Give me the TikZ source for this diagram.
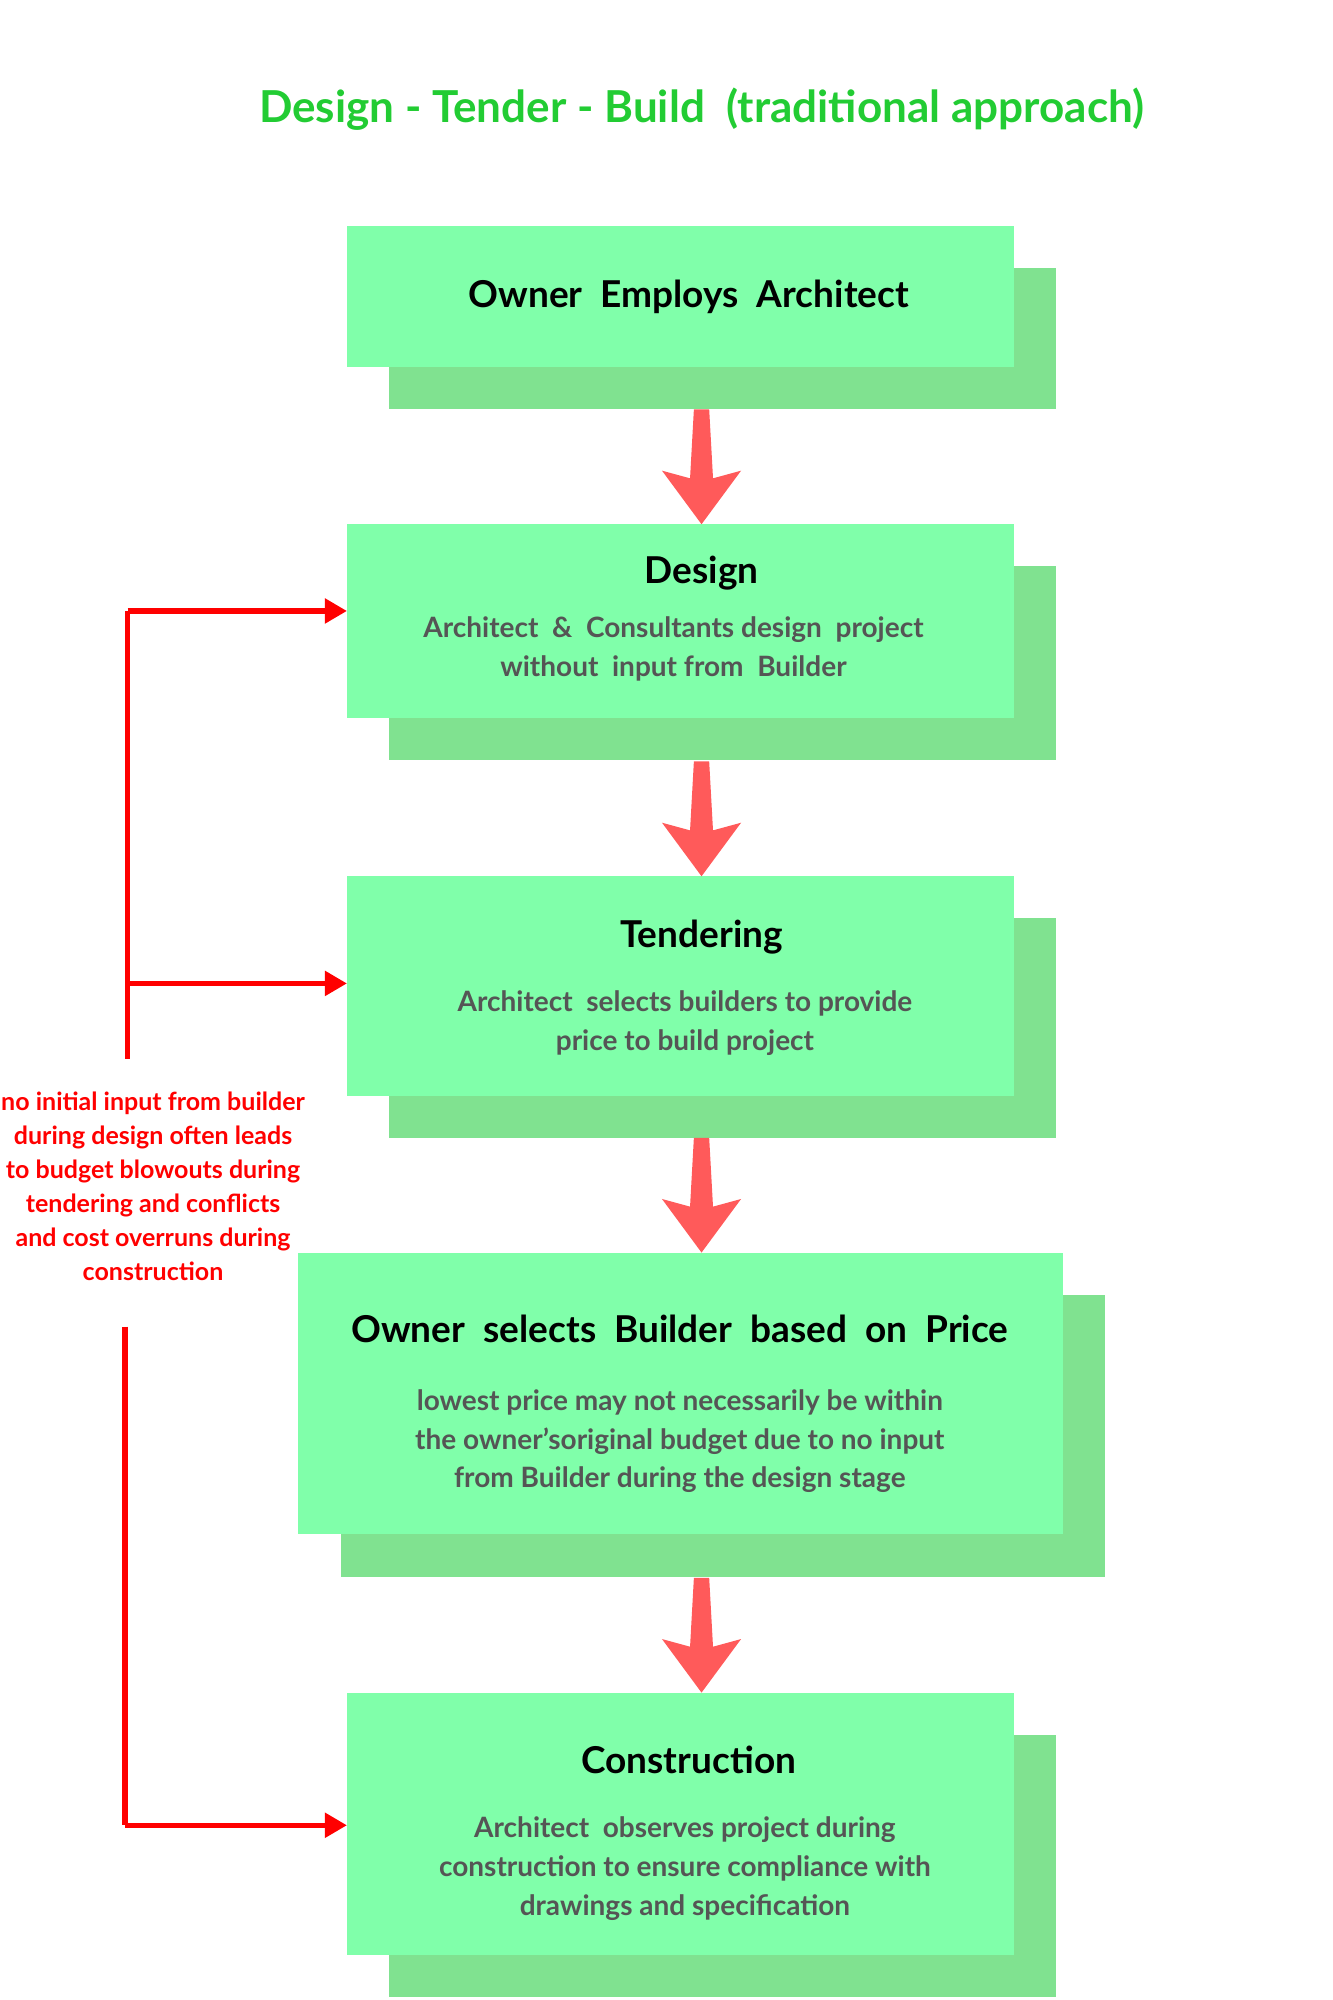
\documentclass[tikz,border=0pt]{standalone}
\usepackage{fontspec}
\setmainfont{Lato}
\usetikzlibrary{arrows.meta}
\definecolor{boxg}{HTML}{80FFAA}
\definecolor{shad}{HTML}{80E290}
\definecolor{titg}{HTML}{22CC33}
\definecolor{arr}{HTML}{FF5A5A}
\definecolor{bodyg}{HTML}{555555}
\tikzset{
 front/.style={fill=boxg,draw=none},
 shadowbox/.style={fill=shad,draw=none},
 btitle/.style={font=\fontsize{18.5}{22}\selectfont\bfseries,text=black},
 btext/.style={font=\fontsize{14}{19.3}\selectfont\bfseries,text=bodyg,align=center},
 redline/.style={draw=red,line width=2.6pt},
 redarrow/.style={redline,-{Triangle[length=11pt,width=12pt]}},
 fatarrow/.style={fill=arr,draw=none}
}
\begin{document}
\begin{tikzpicture}[x=0.6375pt,y=-0.6375pt]
\useasboundingbox (0,0) rectangle (1045,1568);
\node[font=\fontsize{22}{26}\selectfont\bfseries,text=titg] (title) at (550,86) {Design - Tender - Build\ \ (traditional approach)};
% boxes
\foreach \n/\xa/\ya/\xb/\yb in {b1/272/177/795/288,b2/272/411/795/563,b3/272/687/795/859,b4/234/982/833/1203,b5/272/1327/795/1533}{
  \fill[shad] (\xa+33,\ya+33) rectangle (\xb+33,\yb+33);
  \fill[boxg] (\xa,\ya) rectangle (\xb,\yb);
  \coordinate (\n nw) at (\xa,\ya);
}
\node[btitle] (t1) at (540,233) {Owner\ \ Employs\ \ Architect};
\node[btitle] (t2) at (550,449) {Design};
\node[btext] (x2) at (528,509) {Architect\ \ \&\ \ Consultants design\ \ project\\without\ \ input from\ \ Builder};
\node[btitle] (t3) at (550,735) {Tendering};
\node[btext] (x3) at (537,802) {Architect\ \ selects builders to provide\\price to build project};
\node[btitle] (t4) at (533,1042) {Owner\ \ selects\ \ Builder\ \ based\ \ on\ \ Price};
\node[btext] (x4) at (533,1130) {lowest price may not necessarily be within\\the owner'soriginal budget due to no input\\from Builder during the design stage};
\node[btitle] (t5) at (540,1380) {Construction};
\node[btext] (x5) at (537,1465) {Architect\ \ observes project during\\construction to ensure compliance with\\drawings and specification};
% fat arrows
\foreach \ya/\yb in {321/411,597/687,892/982,1237/1327}{
  \fill[arr] (544,\ya) -- (556,\ya) -- (559,{\yb-36}) -- (581,{\yb-42}) -- (550,\yb) -- (519,{\yb-42}) -- (541,{\yb-36}) -- cycle;
}
% red connectors
\coordinate (ua) at (100,479);
\coordinate (ub) at (100,830);
\coordinate (um) at (100,771);
\coordinate (la) at (98,1040);
\coordinate (lb) at (98,1431);
\coordinate (e2) at (272,479);
\coordinate (e3) at (272,771);
\coordinate (e5) at (272,1431);
\draw[redline] (ub) -- (ua);
\draw[redarrow] (ua) -- (e2);
\draw[redarrow] (um) -- (e3);
\draw[redline] (la) -- (lb);
\draw[redarrow] (lb) -- (e5);
\node[font=\fontsize{12.5}{17}\selectfont\bfseries,text=red,align=center] (note) at (120,930)
 {no initial input from builder\\during design often leads\\to budget blowouts during\\tendering and conflicts\\and cost overruns during\\construction};
\end{tikzpicture}
\end{document}
